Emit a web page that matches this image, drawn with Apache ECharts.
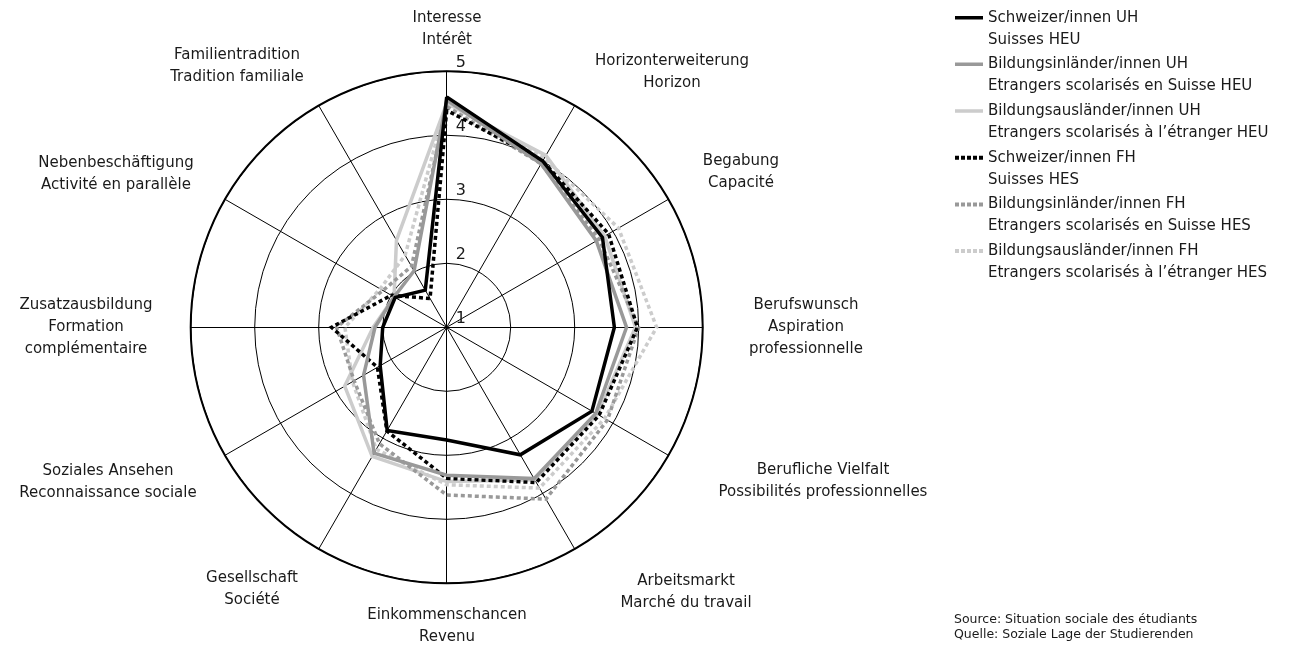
<!DOCTYPE html>
<html><head><meta charset="utf-8">
<script src="https://cdn.jsdelivr.net/npm/echarts@6/dist/echarts.min.js"></script>
<style>html,body{margin:0;padding:0;background:#fff}#c{width:1295px;height:648px}</style>
</head><body><div id="c"></div>
<script>
// ---- data ----
const categories = [
  'Interesse\nIntérêt',
  'Horizonterweiterung\nHorizon',
  'Begabung\nCapacité',
  'Berufswunsch\nAspiration\nprofessionnelle',
  'Berufliche Vielfalt\nPossibilités professionnelles',
  'Arbeitsmarkt\nMarché du travail',
  'Einkommenschancen\nRevenu',
  'Gesellschaft\nSociété',
  'Soziales Ansehen\nReconnaissance sociale',
  'Zusatzausbildung\nFormation\ncomplémentaire',
  'Nebenbeschäftigung\nActivité en parallèle',
  'Familientradition\nTradition familiale'
];
const seriesNames = [
  'Schweizer/innen UH\nSuisses HEU',
  'Bildungsinländer/innen UH\nEtrangers scolarisés en Suisse HEU',
  'Bildungsausländer/innen UH\nEtrangers scolarisés à l’étranger HEU',
  'Schweizer/innen FH\nSuisses HES',
  'Bildungsinländer/innen FH\nEtrangers scolarisés en Suisse HES',
  'Bildungsausländer/innen FH\nEtrangers scolarisés à l’étranger HES'
];
const schweizerUH          = [4.60, 4.00, 3.81, 3.62, 3.62, 3.30, 2.76, 2.86, 2.20, 2.00, 1.93, 1.67];
const bildungsinlaenderUH  = [4.55, 3.95, 3.70, 3.81, 3.69, 3.73, 3.31, 3.27, 2.50, 2.12, 1.95, 2.02];
const bildungsauslaenderUH = [4.50, 4.10, 3.85, 3.95, 3.72, 3.75, 3.41, 3.33, 2.84, 2.15, 1.95, 2.57];
const schweizerFH          = [4.39, 4.00, 3.92, 3.98, 3.75, 3.80, 3.36, 2.87, 2.25, 2.80, 2.00, 1.52];
const bildungsinlaenderFH  = [4.45, 3.95, 3.75, 4.00, 3.90, 4.10, 3.62, 3.10, 2.67, 2.72, 2.15, 2.10];
const bildungsauslaenderFH = [4.50, 4.05, 4.10, 4.28, 3.85, 3.90, 3.46, 3.20, 2.70, 2.59, 2.20, 2.30];
const axisMin = 1;
const axisMax = 5;
const sourceLines = ['Source: Situation sociale des étudiants', 'Quelle: Soziale Lage der Studierenden'];

// ---- layout / style ----
const FONT = '"DejaVu Sans", "Noto Sans", sans-serif';
const TXT = '#1a1a1a';
const CX = 446.7, CY = 327.3, R = 256;
// centres of the category name blocks (pixels)
const namePos = [
  [447, 29], [672, 72], [741, 172], [806, 327], [823, 481], [686, 592],
  [447, 626], [252, 589], [108, 482], [86, 327], [116, 174], [237, 66]
];
const styles = [
  {color: '#000000', dash: 'solid', z: 6},
  {color: '#999999', dash: 'solid', z: 5},
  {color: '#cccccc', dash: 'solid', z: 1},
  {color: '#000000', dash: [4, 3], z: 4},
  {color: '#999999', dash: [4, 3], z: 3},
  {color: '#cccccc', dash: [4, 3], z: 2}
];
const valueSets = [schweizerUH, bildungsinlaenderUH, bildungsauslaenderUH, schweizerFH, bildungsinlaenderFH, bildungsauslaenderFH];

const N = categories.length;
// ECharts lays radar indicators counter-clockwise; reorder so they run clockwise from the top
const order = [0].concat(Array.from({length: N - 1}, (_, i) => N - 1 - i));

const indicator = order.map((k, i) => {
  const o = {name: categories[k], min: axisMin, max: axisMax};
  if (i === 0) o.axisLabel = {show: true};
  return o;
});

const solidIcon = 'path://M0,0L28,0L28,0.01L0,0.01Z M0,9L28,9L28,12.5L0,12.5Z M0,44L28,44L28,44.01L0,44.01Z';
const dotIcon = 'path://M0,0L28,0L28,0.01L0,0.01Z M0,9L4,9L4,13L0,13Z M6,9L10,9L10,13L6,13Z M12,9L16,9L16,13L12,13Z M18,9L22,9L22,13L18,13Z M24,9L28,9L28,13L24,13Z M0,44L28,44L28,44.01L0,44.01Z';

const chart = echarts.init(document.getElementById('c'), null, {renderer: 'canvas'});

const graphics = categories.map((c, k) => ({
  type: 'text', silent: true,
  style: {text: c, x: namePos[k][0], y: namePos[k][1], align: 'center', verticalAlign: 'middle',
          font: '15px ' + FONT, lineHeight: 22, fill: TXT}
}));
graphics.push({
  type: 'text', silent: true,
  style: {text: sourceLines.join('\n'), x: 954, y: 627, align: 'left', verticalAlign: 'middle',
          font: '12.5px ' + FONT, lineHeight: 15, fill: TXT}
});

chart.setOption({
  animation: false,
  backgroundColor: '#ffffff',
  radar: [{
    center: [CX, CY], radius: R, startAngle: 90, shape: 'circle', splitNumber: axisMax - axisMin,
    indicator: indicator,
    axisName: {show: false},
    axisLine: {lineStyle: {color: '#000', width: 1}},
    splitLine: {lineStyle: {color: '#000', width: 1}},
    splitArea: {show: false},
    axisTick: {show: false},
    axisLabel: {show: false, fontSize: 16, color: TXT, fontFamily: FONT, margin: -9, align: 'left', verticalAlign: 'bottom', showMinLabel: true, showMaxLabel: true}
  }, {
    center: [CX, CY], radius: R, startAngle: 90, shape: 'circle', splitNumber: 1,
    indicator: order.map(k => ({name: categories[k], min: axisMin, max: axisMax})),
    axisName: {show: false},
    axisLine: {show: false},
    splitLine: {lineStyle: {color: '#000', width: 2}},
    splitArea: {show: false},
    axisTick: {show: false},
    axisLabel: {show: false},
    silent: true
  }],
  legend: {
    orient: 'vertical', left: 955, top: 7, padding: 0, itemWidth: 28, itemHeight: 44, itemGap: 2.6,
    selectedMode: false,
    textStyle: {fontSize: 15, lineHeight: 22, fontFamily: FONT, color: TXT},
    data: seriesNames.map((n, i) => ({name: n, icon: styles[i].dash === 'solid' ? solidIcon : dotIcon}))
  },
  graphic: graphics,
  series: seriesNames.map((n, i) => ({
    type: 'radar', radarIndex: 0, name: n, symbol: 'none', silent: true, z: styles[i].z,
    itemStyle: {color: styles[i].color},
    lineStyle: {color: styles[i].color, width: 3.5, type: styles[i].dash, cap: 'butt', join: 'miter'},
    data: [{name: n, value: order.map(k => valueSets[i][k])}]
  }))
});
</script>
</body></html>
